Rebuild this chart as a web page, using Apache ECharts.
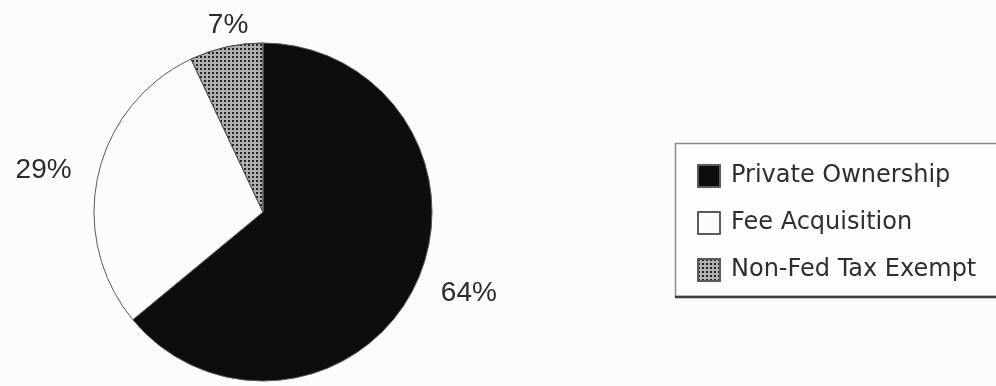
<!DOCTYPE html>
<html>
<head>
<meta charset="utf-8">
<style>
  html, body { margin: 0; padding: 0; background: #fcfcfc; }
  #chart { width: 996px; height: 386px; }
</style>
<script src="https://cdn.jsdelivr.net/npm/echarts@6/dist/echarts.min.js"></script>
</head>
<body>
<div id="chart"></div>
<script>
// Ownership categories and their shares (percent)
const categories = ['Private Ownership', 'Fee Acquisition', 'Non-Fed Tax Exempt'];
const shares = [64, 29, 7];

const fills = ['#0c0d0c', '#fcfcfc', '#b0b0b0'];
// fine cross-hatch used for the tax-exempt slice and its legend key
const hatch = {
  symbol: 'rect',
  symbolSize: 1,
  color: '#222222',
  dashArrayX: [2, 2],
  dashArrayY: [2, 2],
  rotation: 0
};

const chart = echarts.init(document.getElementById('chart'), null, { renderer: 'canvas' });

const pieData = categories.map((name, i) => ({
  name: name,
  value: shares[i],
  itemStyle: Object.assign(
    { color: fills[i], borderColor: '#5a5a5a', borderWidth: 1 },
    i === 2 ? { decal: hatch } : {}
  )
}));

chart.setOption({
  backgroundColor: '#fcfcfc',
  animation: false,
  graphic: [
    {
      type: 'rect',
      shape: { x: 675.5, y: 143.5, width: 340, height: 153 },
      style: { fill: '#fdfdfd', stroke: '#8a8a8a', lineWidth: 1.5 },
      z: -1
    },
    {
      type: 'line',
      shape: { x1: 675, y1: 297, x2: 996, y2: 297 },
      style: { stroke: '#3a3a3a', lineWidth: 2.5 },
      z: -1
    }
  ],
  legend: {
    orient: 'vertical',
    left: 697,
    top: 164,
    padding: 0,
    itemWidth: 22,
    itemHeight: 22,
    itemGap: 23,
    icon: 'rect',
    selectedMode: false,
    data: categories,
    textStyle: {
      fontFamily: 'DejaVu Sans, sans-serif',
      fontSize: 24,
      lineHeight: 22,
      color: '#2e2e2e',
      padding: [0, 0, 0, 6]
    }
  },
  series: [{
    type: 'pie',
    center: [263, 212],
    radius: 169,
    startAngle: 90,
    clockwise: true,
    avoidLabelOverlap: false,
    label: {
      show: true,
      position: 'outside',
      formatter: '{c}%',
      fontFamily: 'Liberation Sans, Arial, sans-serif',
      fontSize: 28,
      color: '#2b2b2b',
      distanceToLabelLine: 5
    },
    labelLine: { show: false, length: 22, length2: 0 },
    labelLayout: function (p) {
      return p.dataIndex === 2 ? { dx: 32 } : {};
    },
    emphasis: { disabled: true },
    data: pieData
  }]
});
</script>
</body>
</html>
